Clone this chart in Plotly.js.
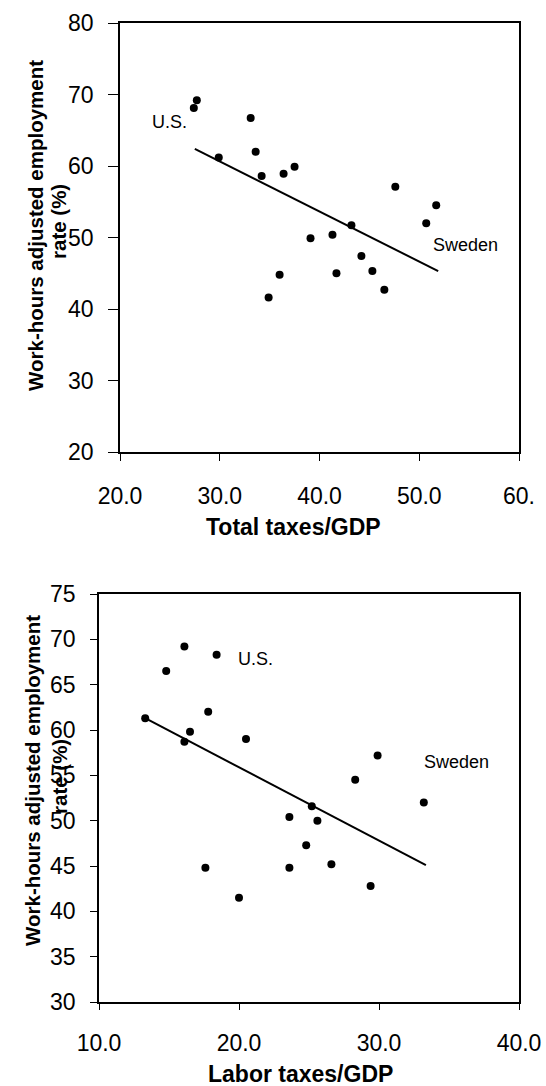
<!DOCTYPE html>
<html>
<head>
<meta charset="utf-8">
<script src="https://cdn.plot.ly/plotly-3.0.1.min.js"></script>
<style>
  html, body { margin: 0; padding: 0; background: #ffffff; }
  #chart { width: 546px; height: 1086px; }
</style>
</head>
<body>
<div id="chart"></div>
<script>
// Total taxes as a share of GDP (%) and the employment rate for each country
const totalTaxes = [27.7, 27.4, 33.1, 29.9, 33.6, 34.2, 36.4, 37.5, 47.6, 51.7,
                    50.7, 43.2, 39.1, 41.3, 44.2, 36.0, 34.9, 41.7, 45.3, 46.5];
const employmentTotal = [69.2, 68.1, 66.7, 61.2, 62.0, 58.6, 58.9, 59.9, 57.1, 54.5,
                         52.0, 51.7, 49.9, 50.4, 47.4, 44.8, 41.6, 45.0, 45.3, 42.7];
const trendTotalX = [27.5, 51.9];
const trendTotalY = [62.4, 45.3];

// Labor taxes as a share of GDP (%) and the employment rate for each country
const laborTaxes = [16.1, 18.4, 14.8, 17.8, 13.3, 16.5, 16.1, 20.5, 29.9, 28.3,
                    33.2, 25.2, 23.6, 25.6, 24.8, 17.6, 23.6, 26.6, 29.4, 20.0];
const employmentLabor = [69.2, 68.3, 66.5, 62.0, 61.3, 59.8, 58.7, 59.0, 57.2, 54.5,
                         52.0, 51.6, 50.4, 50.0, 47.3, 44.8, 44.8, 45.2, 42.8, 41.5];
const trendLaborX = [13.3, 33.35];
const trendLaborY = [61.3, 45.1];

// Axis ticks
const topXTicks = [20, 30, 40, 50, 60];
const topXTickText = ["20.0", "30.0", "40.0", "50.0", "60."];
const topYTicks = [20, 30, 40, 50, 60, 70, 80];
const bottomXTicks = [10, 20, 30, 40];
const bottomXTickText = ["10.0", "20.0", "30.0", "40.0"];
const bottomYTicks = [30, 35, 40, 45, 50, 55, 60, 65, 70, 75];

// Text
const yTitleLine1 = "Work-hours adjusted employment";
const yTitleLine2 = "rate (%)";
const topXTitle = "Total taxes/GDP";
const bottomXTitle = "Labor taxes/GDP";
const usLabel = "U.S.";
const swedenLabel = "Sweden";

const W = 546, H = 1086;
const FONT = "Liberation Sans, Arial, sans-serif";

const dots = {color: "#000000", size: 8};
const fitLine = {color: "#000000", width: 2};

const traces = [
  {x: totalTaxes, y: employmentTotal, mode: "markers", type: "scatter",
   marker: dots, xaxis: "x", yaxis: "y", hoverinfo: "x+y"},
  {x: trendTotalX, y: trendTotalY, mode: "lines", type: "scatter",
   line: fitLine, xaxis: "x", yaxis: "y", hoverinfo: "skip"},
  {x: laborTaxes, y: employmentLabor, mode: "markers", type: "scatter",
   marker: dots, xaxis: "x2", yaxis: "y2", hoverinfo: "x+y"},
  {x: trendLaborX, y: trendLaborY, mode: "lines", type: "scatter",
   line: fitLine, xaxis: "x2", yaxis: "y2", hoverinfo: "skip"}
];

function axisBase(extra) {
  return Object.assign({
    showline: true, mirror: true, linecolor: "#000000", linewidth: 1.8,
    showgrid: false, zeroline: false, ticks: "outside", tickcolor: "#000000",
    tickwidth: 1, fixedrange: true,
    tickfont: {family: FONT, size: 23, color: "#000000"}
  }, extra);
}

// pixel helpers for paper placement
const px = v => v / W;
const py = v => 1 - v / H;

const layout = {
  width: W, height: H, autosize: false,
  margin: {l: 0, r: 0, t: 0, b: 0, pad: 0},
  paper_bgcolor: "#ffffff", plot_bgcolor: "#ffffff",
  showlegend: false,
  xaxis: axisBase({domain: [px(120), px(519)], anchor: "y", range: [20, 60],
    tickmode: "array", tickvals: topXTicks, ticktext: topXTickText,
    ticklen: 7, ticklabelstandoff: 16}),
  yaxis: axisBase({domain: [py(452), py(23)], anchor: "x", range: [20, 80],
    tickmode: "array", tickvals: topYTicks, ticklen: 10, ticklabelstandoff: 10}),
  xaxis2: axisBase({domain: [px(99), px(519)], anchor: "y2", range: [10, 40],
    tickmode: "array", tickvals: bottomXTicks, ticktext: bottomXTickText,
    ticklen: 6, ticklabelstandoff: 14}),
  yaxis2: axisBase({domain: [py(1002), py(594)], anchor: "x2", range: [30, 75],
    tickmode: "array", tickvals: bottomYTicks, ticklen: 7, ticklabelstandoff: 10}),
  annotations: [
    // y-axis titles, two rotated lines each
    {text: yTitleLine1, xref: "paper", yref: "paper", x: px(35), y: py(226),
     textangle: -90, showarrow: false, xanchor: "center", yanchor: "middle",
     font: {family: FONT, size: 20.5, weight: "bold", color: "#000000"}},
    {text: yTitleLine2, xref: "paper", yref: "paper", x: px(58), y: py(222),
     textangle: -90, showarrow: false, xanchor: "center", yanchor: "middle",
     font: {family: FONT, size: 20.5, weight: "bold", color: "#000000"}},
    {text: yTitleLine1, xref: "paper", yref: "paper", x: px(32), y: py(781),
     textangle: -90, showarrow: false, xanchor: "center", yanchor: "middle",
     font: {family: FONT, size: 20.5, weight: "bold", color: "#000000"}},
    {text: yTitleLine2, xref: "paper", yref: "paper", x: px(59), y: py(777),
     textangle: -90, showarrow: false, xanchor: "center", yanchor: "middle",
     font: {family: FONT, size: 20.5, weight: "bold", color: "#000000"}},
    // x-axis titles
    {text: topXTitle, xref: "paper", yref: "paper", x: px(293), y: py(527),
     showarrow: false, xanchor: "center", yanchor: "middle",
     font: {family: FONT, size: 23, weight: "bold", color: "#000000"}},
    {text: bottomXTitle, xref: "paper", yref: "paper", x: px(300), y: py(1074),
     showarrow: false, xanchor: "center", yanchor: "middle",
     font: {family: FONT, size: 23, weight: "bold", color: "#000000"}},
    // country labels
    {text: usLabel, xref: "x", yref: "y", x: 25.0, y: 66.2, showarrow: false,
     xanchor: "center", yanchor: "middle",
     font: {family: FONT, size: 18, color: "#000000"}},
    {text: swedenLabel, xref: "x", yref: "y", x: 51.2, y: 49.0, showarrow: false,
     xanchor: "left", yanchor: "middle",
     font: {family: FONT, size: 18, color: "#000000"}},
    {text: usLabel, xref: "x2", yref: "y2", x: 19.8, y: 67.8, showarrow: false,
     xanchor: "left", yanchor: "middle",
     font: {family: FONT, size: 18, color: "#000000"}},
    {text: swedenLabel, xref: "x2", yref: "y2", x: 33.1, y: 56.5, showarrow: false,
     xanchor: "left", yanchor: "middle",
     font: {family: FONT, size: 18, color: "#000000"}}
  ]
};

Plotly.newPlot("chart", traces, layout, {staticPlot: true, displayModeBar: false});
</script>
</body>
</html>
